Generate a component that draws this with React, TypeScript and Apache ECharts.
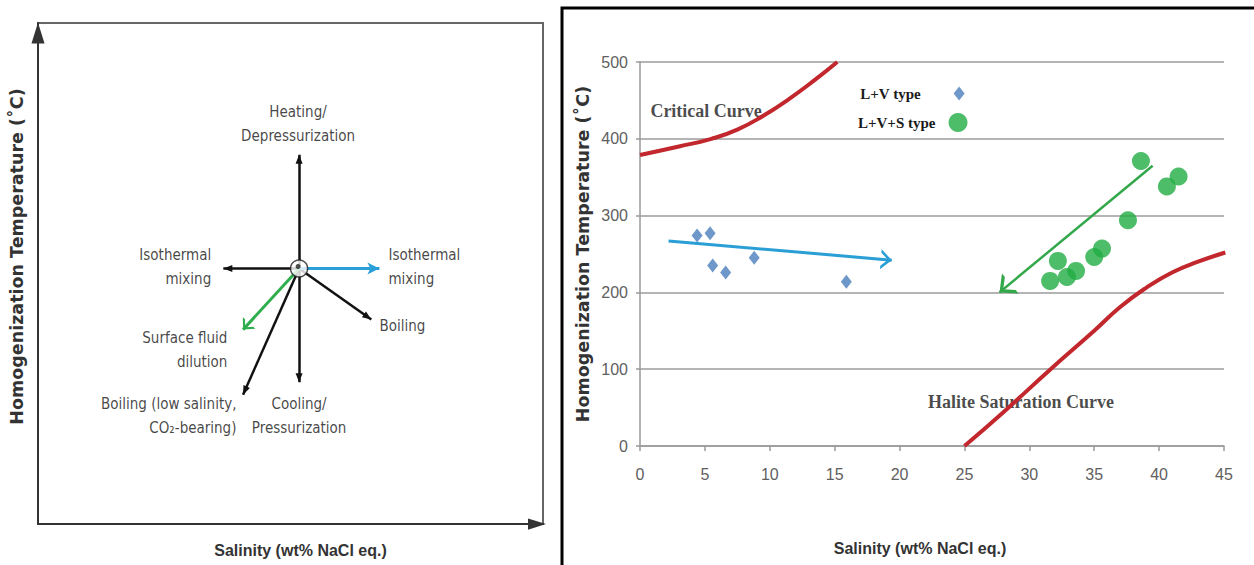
import { useEffect, useRef } from "react";
import * as echarts from "echarts";

// ---------- Left panel: schematic of fluid-evolution paths (arbitrary 0–100 units) ----------
const schematicCenter: [number, number] = [51.7, 51.0];
// black process arrows (tips)
const processArrowTips: [number, number][] = [
  [51.7, 73.7], // heating / depressurization
  [36.7, 51.0], // isothermal mixing (towards lower salinity)
  [66.0, 40.8], // boiling
  [40.6, 25.8], // boiling of low-salinity CO2-bearing fluid
  [51.7, 28.3], // cooling / pressurization
];
const mixingArrowTip: [number, number] = [67.6, 51.0];
const dilutionArrowTip: [number, number] = [40.6, 38.8];

const schematicLabels = [
  "Heating/\nDepressurization",
  "Isothermal\nmixing",
  "Isothermal\nmixing",
  "Boiling",
  "Surface fluid\ndilution",
  "Boiling (low salinity,\nCO₂-bearing)",
  "Cooling/\nPressurization",
];
const schematicLabelAnchors: [number, number][] = [
  [51.5, 79.8],
  [34.3, 51.2],
  [69.4, 51.3],
  [67.6, 39.6],
  [37.5, 34.8],
  [39.3, 21.6],
  [51.7, 21.6],
];
const schematicLabelAlign = ["center", "right", "left", "left", "right", "right", "center"];

// ---------- Right panel: fluid inclusion data ----------
const lvSalinity = [4.4, 5.4, 5.6, 6.6, 8.8, 15.9];
const lvTemperature = [274, 277, 235, 226, 245, 214];

const lvsSalinity = [38.6, 41.5, 40.6, 37.6, 35.6, 35.0, 32.2, 33.6, 32.9, 31.6];
const lvsTemperature = [371, 351, 338, 294, 257, 246, 241, 228, 220, 215];

const criticalSalinity = [0, 3, 5.5, 7.5, 9.5, 11.5, 13.5, 15.2];
const criticalTemperature = [379, 390, 400, 412, 430, 452, 477, 500];

const haliteSalinity = [25, 28, 31.7, 35, 37, 39, 41, 43, 45.1];
const haliteTemperature = [0, 44, 101, 150, 181, 206, 226, 240, 252];

const lvTrend: [number, number][] = [[2.2, 267], [19.4, 242]];
const lvsTrend: [number, number][] = [[39.5, 365], [27.7, 200]];

const curveLabels = ["Critical Curve", "Halite Saturation Curve"];
const curveLabelAnchors: [number, number][] = [[0.8, 436], [22.2, 57]];

const salinityTicks = { min: 0, max: 45, interval: 5 };
const temperatureTicks = { min: 0, max: 500, interval: 100 };

// ---------- styling helpers ----------
const SANS_COND = "'DejaVu Sans Condensed', 'DejaVu Sans', sans-serif";
const SANS_BOLD = "'DejaVu Sans', Verdana, sans-serif";
const NARROW = "'Liberation Sans Narrow', 'Arial Narrow', 'Liberation Sans', sans-serif";
const SERIF = "'Liberation Serif', 'Times New Roman', serif";

// arrow heads point up with the tip at the centre of their bounding box,
// so the line end coincides with the tip after rotation
const HEAD_TRIANGLE = "path://M10,0 L20,14 L0,14 Z M10,-14 L10.01,-14";
const HEAD_NOTCHED = "path://M10,0 L20,16 L10,12 L0,16 Z M10,-16 L10.01,-16";
const HEAD_CHEVRON = "path://M10,0 L20,10 L16.5,10 L10,3.5 L3.5,10 L0,10 Z M10,-10 L10.01,-10";
const AXIS_HEAD = "path://M5,0 L10,16 L0,16 Z";

const zip = (xs: number[], ys: number[]) => xs.map((x, i) => [x, ys[i]]);

function buildOption(): echarts.EChartsOption {
  return {
    animation: false,
    backgroundColor: "#ffffff",
    graphic: [
      {
        type: "polyline",
        shape: { points: [[562, 565], [562, 8], [1254, 8]] },
        style: { stroke: "#000", lineWidth: 3, fill: "none" },
        silent: true,
      },
    ],
    legend: [
      {
        data: ["L+V type"],
        left: 855,
        top: 81,
        align: "right",
        icon: "diamond",
        itemWidth: 11,
        itemHeight: 14,
        selectedMode: false,
        textStyle: { fontFamily: SERIF, fontWeight: "bold", fontSize: 15, color: "#1a1a1a", padding: [0, 28, 0, 0] },
      },
      {
        data: ["L+V+S type"],
        left: 853,
        top: 108,
        align: "right",
        icon: "circle",
        itemWidth: 19,
        itemHeight: 19,
        selectedMode: false,
        textStyle: { fontFamily: SERIF, fontWeight: "bold", fontSize: 15, color: "#1a1a1a", padding: [0, 8, 0, 0] },
      },
    ],
    grid: [
      { left: 38, top: 23, width: 505, height: 501, show: true, borderColor: "#666", borderWidth: 2, backgroundColor: "transparent" },
      { left: 640, top: 62, width: 584, height: 384 },
    ],
    xAxis: [
      {
        gridIndex: 0,
        type: "value",
        min: 0,
        max: 100,
        axisLine: {
          show: true,
          onZero: false,
          lineStyle: { color: "#333", width: 2 },
          symbol: ["none", AXIS_HEAD],
          symbolSize: [14, 18],
          symbolOffset: [0, -6],
        },
        axisTick: { show: false },
        axisLabel: { show: false },
        splitLine: { show: false },
        name: "Salinity (wt% NaCl eq.)",
        nameLocation: "middle",
        nameGap: 18,
        nameTextStyle: { fontFamily: NARROW, fontWeight: "bold", fontSize: 16, color: "#333", padding: [0, 0, 0, 20] },
      },
      {
        gridIndex: 1,
        type: "value",
        ...salinityTicks,
        axisLine: { show: true, onZero: false, lineStyle: { color: "#9a9a9a", width: 1.5 } },
        axisTick: { show: true, length: 5, lineStyle: { color: "#9a9a9a", width: 1.5 } },
        axisLabel: { color: "#606060", fontFamily: NARROW, fontSize: 16, margin: 20 },
        splitLine: { show: false },
        name: "Salinity (wt% NaCl eq.)",
        nameLocation: "middle",
        nameGap: 94,
        nameTextStyle: { fontFamily: NARROW, fontWeight: "bold", fontSize: 16, color: "#333", padding: [0, 24, 0, 0] },
      },
    ],
    yAxis: [
      {
        gridIndex: 0,
        type: "value",
        min: 0,
        max: 100,
        axisLine: {
          show: true,
          onZero: false,
          lineStyle: { color: "#333", width: 2 },
          symbol: ["none", AXIS_HEAD],
          symbolSize: [13, 21],
          symbolOffset: [0, -10],
        },
        axisTick: { show: false },
        axisLabel: { show: false },
        splitLine: { show: false },
        name: "Homogenization Temperature (˚C)",
        nameLocation: "middle",
        nameGap: 12,
        nameTextStyle: { fontFamily: SANS_BOLD, fontWeight: "bold", fontSize: 17.5, color: "#333", padding: [0, 0, 0, 34] },
      },
      {
        gridIndex: 1,
        type: "value",
        ...temperatureTicks,
        axisLine: { show: true, lineStyle: { color: "#9a9a9a", width: 1.5 } },
        axisTick: { show: true, length: 4, lineStyle: { color: "#9a9a9a", width: 1.5 } },
        axisLabel: { color: "#606060", fontFamily: NARROW, fontSize: 16, margin: 12 },
        splitLine: { show: true, lineStyle: { color: "#b4b4b4", width: 2 } },
        name: "Homogenization Temperature (˚C)",
        nameLocation: "middle",
        nameGap: 48,
        nameTextStyle: { fontFamily: SANS_BOLD, fontWeight: "bold", fontSize: 17.5, color: "#333" },
      },
    ],
    series: [
      // ----- schematic -----
      {
        type: "lines",
        coordinateSystem: "cartesian2d",
        xAxisIndex: 0,
        yAxisIndex: 0,
        z: 3,
        silent: true,
        symbol: ["none", HEAD_TRIANGLE],
        symbolSize: [1, [7, 18]] as any,
        lineStyle: { color: "#111", width: 2.5, opacity: 1 },
        data: processArrowTips.map((tip) => ({ coords: [schematicCenter, tip] })),
      },
      {
        type: "lines",
        coordinateSystem: "cartesian2d",
        xAxisIndex: 0,
        yAxisIndex: 0,
        z: 3,
        silent: true,
        symbol: ["none", HEAD_NOTCHED],
        symbolSize: [1, [12, 24]] as any,
        lineStyle: { color: "#2a9fd8", width: 3, opacity: 1 },
        data: [{ coords: [schematicCenter, mixingArrowTip] }],
      },
      {
        type: "lines",
        coordinateSystem: "cartesian2d",
        xAxisIndex: 0,
        yAxisIndex: 0,
        z: 3,
        silent: true,
        symbol: ["none", HEAD_CHEVRON],
        symbolSize: [1, [17, 18]] as any,
        lineStyle: { color: "#2fae4e", width: 3, opacity: 1 },
        data: [{ coords: [schematicCenter, dilutionArrowTip] }],
      },
      {
        type: "scatter",
        xAxisIndex: 0,
        yAxisIndex: 0,
        z: 5,
        silent: true,
        symbol: "circle",
        symbolSize: 17,
        itemStyle: { color: "#fff", borderColor: "#222", borderWidth: 1.5 },
        data: [schematicCenter],
      },
      {
        type: "scatter",
        xAxisIndex: 0,
        yAxisIndex: 0,
        z: 6,
        silent: true,
        symbol: "circle",
        symbolSize: 5,
        symbolOffset: [-1, -2],
        itemStyle: { color: "#222" },
        data: [schematicCenter],
      },
      {
        type: "scatter",
        xAxisIndex: 0,
        yAxisIndex: 0,
        z: 4,
        silent: true,
        symbolSize: 1,
        itemStyle: { color: "transparent" },
        label: {
          show: true,
          position: "inside",
          formatter: "{b}",
          fontFamily: SANS_COND,
          fontSize: 15,
          lineHeight: 24,
          color: "#151515",
          verticalAlign: "middle",
        },
        data: schematicLabels.map((text, i) => ({
          name: text,
          value: schematicLabelAnchors[i],
          label: { align: schematicLabelAlign[i] as any },
        })),
      },

      // ----- inclusion data -----
      {
        type: "scatter",
        xAxisIndex: 1,
        yAxisIndex: 1,
        z: 1,
        silent: true,
        symbolSize: 1,
        itemStyle: { color: "transparent" },
        label: {
          show: true,
          position: "inside",
          align: "left",
          verticalAlign: "middle",
          formatter: "{b}",
          fontFamily: SERIF,
          fontWeight: "bold",
          fontSize: 18,
          color: "#1a1a1a",
        },
        data: curveLabels.map((text, i) => ({ name: text, value: curveLabelAnchors[i] })),
      },
      {
        name: "Critical Curve",
        type: "line",
        xAxisIndex: 1,
        yAxisIndex: 1,
        z: 3,
        smooth: 0.5,
        showSymbol: false,
        silent: true,
        lineStyle: { color: "#c1272d", width: 4 },
        data: zip(criticalSalinity, criticalTemperature),
      },
      {
        name: "Halite Saturation Curve",
        type: "line",
        xAxisIndex: 1,
        yAxisIndex: 1,
        z: 3,
        smooth: 0.5,
        showSymbol: false,
        silent: true,
        lineStyle: { color: "#c1272d", width: 4 },
        data: zip(haliteSalinity, haliteTemperature),
      },
      {
        name: "L+V type",
        type: "scatter",
        xAxisIndex: 1,
        yAxisIndex: 1,
        z: 4,
        symbol: "diamond",
        symbolSize: [11, 14],
        itemStyle: { color: "#4a7ebb" },
        data: zip(lvSalinity, lvTemperature),
      },
      {
        name: "L+V+S type",
        type: "scatter",
        xAxisIndex: 1,
        yAxisIndex: 1,
        z: 4,
        symbol: "circle",
        symbolSize: 18,
        itemStyle: { color: "#22ad44" },
        data: zip(lvsSalinity, lvsTemperature),
      },
      {
        type: "lines",
        coordinateSystem: "cartesian2d",
        xAxisIndex: 1,
        yAxisIndex: 1,
        z: 5,
        silent: true,
        symbol: ["none", HEAD_CHEVRON],
        symbolSize: [1, [20, 22]] as any,
        lineStyle: { color: "#2a9fd6", width: 3, opacity: 1 },
        data: [{ coords: lvTrend }],
      },
      {
        type: "lines",
        coordinateSystem: "cartesian2d",
        xAxisIndex: 1,
        yAxisIndex: 1,
        z: 5,
        silent: true,
        symbol: ["none", HEAD_CHEVRON],
        symbolSize: [1, [26, 28]] as any,
        lineStyle: { color: "#33a84b", width: 2.5, opacity: 1 },
        data: [{ coords: lvsTrend }],
      },
    ],
  };
}

export default function App() {
  const ref = useRef<HTMLDivElement>(null);
  useEffect(() => {
    if (!ref.current) return;
    const chart = echarts.init(ref.current, null, { renderer: "svg" });
    chart.setOption(buildOption());
    return () => chart.dispose();
  }, []);
  return (
    <div
      ref={ref}
      style={{ position: "absolute", left: 0, top: 0, width: 1254, height: 565, background: "#fff" }}
    />
  );
}
